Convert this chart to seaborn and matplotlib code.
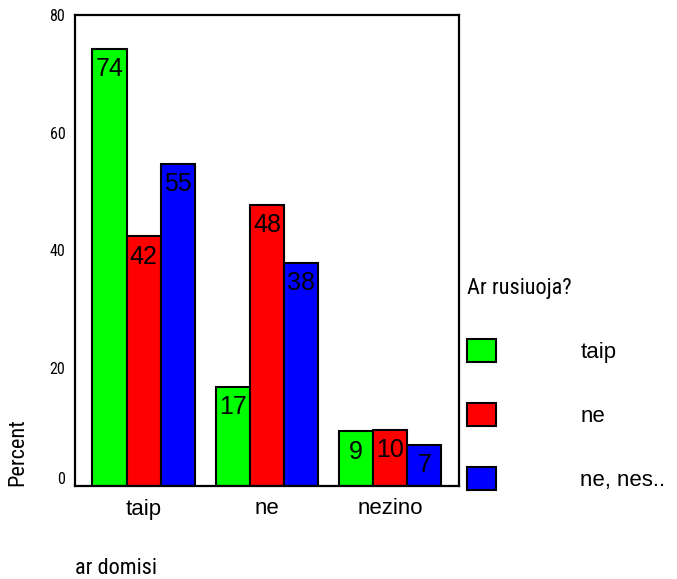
import matplotlib
matplotlib.use("Agg")
import matplotlib.pyplot as plt
from matplotlib.patches import Patch
from matplotlib.transforms import ScaledTranslation
import pandas as pd
import seaborn as sns

# Survey crosstab: "ar domisi" (x categories) by "Ar rusiuoja?" (hue), in percent
domisi = ["taip", "ne", "nezino"]
rusiuoja = ["taip", "ne", "ne, nes.."]
pct_taip = [74.3, 16.8, 9.3]
pct_ne = [42.4, 47.7, 9.5]
pct_ne_nes = [54.7, 37.9, 7.0]
colors = ["#00ff00", "#ff0000", "#0000ff"]
y_ticks = [0, 20, 40, 60, 80]

df = pd.DataFrame({
    "domisi": domisi * 3,
    "rusiuoja": [r for r in rusiuoja for _ in domisi],
    "pct": pct_taip + pct_ne + pct_ne_nes,
})

sns.set_theme(style="white")
narrow = ["Roboto Condensed", "Liberation Sans"]
plt.rcParams["font.family"] = ["Liberation Sans", "DejaVu Sans"]
plt.rcParams["text.color"] = "black"
plt.rcParams["axes.labelcolor"] = "black"
plt.rcParams["xtick.color"] = "black"
plt.rcParams["ytick.color"] = "black"

W, H = 677, 579
fig = plt.figure(figsize=(W / 100, H / 100), dpi=100)
ax = fig.add_axes([75 / W, 1 - 486 / H, (459 - 75) / W, (486 - 15) / H])

sns.barplot(data=df, x="domisi", y="pct", hue="rusiuoja",
            order=domisi, hue_order=rusiuoja, palette=colors,
            saturation=1, width=0.83, edgecolor="black", linewidth=1.5,
            legend=False, ax=ax)

ax.set_xlim(-0.556, 2.558)
ax.set_ylim(0, 80)
ax.set_xlabel("")
ax.set_ylabel("")

for sp in ax.spines.values():
    sp.set_color("black")
    sp.set_linewidth(1.6)

# value labels just inside the top of each bar
for cont in ax.containers:
    for bar, v in zip(cont, cont.datavalues):
        ax.annotate(f"{v:.0f}", (bar.get_x() + bar.get_width() / 2, v),
                    xytext=(0, -6), textcoords="offset points",
                    ha="center", va="top", fontsize=18, color="black")

ax.set_yticks(y_ticks)
ax.set_yticklabels([str(t) for t in y_ticks], family=narrow, fontsize=11.5,
                   color="black")
ax.tick_params(axis="y", length=0, pad=7, colors="black")
ax.tick_params(axis="x", length=3, width=4.5, pad=6, colors="black",
               labelsize=16, direction="out")
ax.set_xticks(range(len(domisi)))
ax.set_xticklabels(domisi, color="black")
# lift the zero label off the baseline
zero = ax.get_yticklabels()[0]
zero.set_transform(zero.get_transform()
                   + ScaledTranslation(0, 6 / 72, fig.dpi_scale_trans))

handles = [Patch(facecolor=c, edgecolor="black", linewidth=1.5) for c in colors]
leg = ax.legend(handles, rusiuoja, title="Ar rusiuoja?", loc="upper left",
                bbox_to_anchor=(467 / W, 1 - 278 / H),
                bbox_transform=fig.transFigure, frameon=False,
                borderpad=0, borderaxespad=0, handlelength=1.3,
                handleheight=1.22, handletextpad=3.8, labelspacing=1.8,
                alignment="left", prop={"size": 16},
                title_fontproperties={"family": narrow, "size": 16})
for t in leg.get_texts():
    t.set_color("black")
leg.get_title().set_color("black")

fig.text(18 / W, 1 - 452 / H, "Percent", rotation=90, ha="center",
         va="center", family=narrow, fontsize=16, color="black")
fig.text(75 / W, 1 - 574 / H, "ar domisi", ha="left", va="baseline",
         family=narrow, fontsize=16, color="black")

fig.savefig("out.png", dpi=100, facecolor="white")
